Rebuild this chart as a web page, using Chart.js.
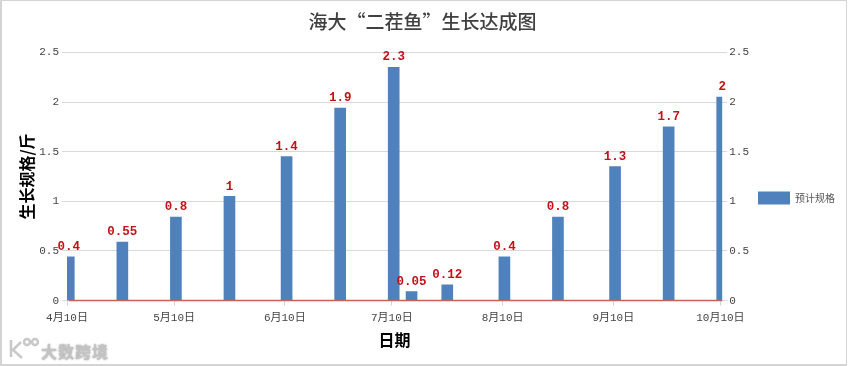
<!DOCTYPE html>
<html>
<head>
<meta charset="utf-8">
<title>海大“二茬鱼”生长达成图</title>
<script src="https://cdn.jsdelivr.net/npm/chart.js@4"></script>
<style>
body { margin: 0; background: #fff; }
#box { position: relative; width: 848px; height: 366px; overflow: hidden; }
#box canvas { position: absolute; left: 0; top: 0; }
#frame { position: absolute; left: 0; top: 0; width: 847px; height: 366px; box-sizing: border-box; border: 1px solid #d4d4d4; border-width: 1px 1px 2px 2px; }
#mark { position: absolute; left: 41px; top: 339px; font: bold 16px "Noto Sans CJK SC"; letter-spacing: 1px; color: #c4c4c4; text-shadow: 0 0 2px #999; }
#logo { position: absolute; left: 8px; top: 337px; }
</style>
</head>
<body>
<div id="box">
	<canvas id="chart" width="848" height="366"></canvas>
	<div id="frame"></div>
	<svg id="logo" width="32" height="24" fill="none" stroke="#c8c8c8" stroke-width="2.5">
		<path d="M3 3V20M13 5L5 13L14 21"/>
		<circle cx="19" cy="5" r="3"/>
		<circle cx="27" cy="5" r="3"/>
	</svg>
	<div id="mark">大数跨境</div>
</div>
<script>
// 날짜 (4월10일 = 0)
var days = [0, 15, 30, 45, 61, 76, 91, 96, 106, 122, 137, 153, 168, 183];
var sizes = [0.44, 0.59, 0.84, 1.05, 1.45, 1.94, 2.35, 0.09, 0.16, 0.44, 0.84, 1.35, 1.75, 2.05];
var sizeLabels = ['0.4', '0.55', '0.8', '1', '1.4', '1.9', '2.3', '0.05', '0.12', '0.4', '0.8', '1.3', '1.7', '2'];
var baseline = [0, 0, 0, 0, 0, 0, 0, 0, 0, 0, 0, 0, 0, 0];
var tickDays = [0, 30, 61, 91, 122, 153, 183];
var tickLabels = ['4月10日', '5月10日', '6月10日', '7月10日', '8月10日', '9月10日', '10月10日'];

var cjk = '"Liberation Mono", "Noto Sans CJK SC", monospace';

function toPoints(values) {
	return values.map(function(v, i) { return { x: days[i], y: v }; });
}

// 막대 위 빨간 숫자
var barLabels = {
	id: 'barLabels',
	afterDatasetsDraw: function(chart) {
		var ctx = chart.ctx;
		ctx.save();
		ctx.font = 'bold 12.5px "Liberation Mono"';
		ctx.fillStyle = '#c5101a';
		ctx.textAlign = 'center';
		ctx.textBaseline = 'middle';
		chart.getDatasetMeta(1).data.forEach(function(bar, i) {
			ctx.fillText(sizeLabels[i], bar.x, bar.y - 10);
		});
		ctx.restore();
	}
};

// 범례, 제목 위치 옮기기
var moveLegend = {
	id: 'moveLegend',
	afterLayout: function(chart) {
		var lg = chart.legend;
		lg.top += 23;
		lg.bottom += 23;
		lg.left += 7;
		lg.right += 7;
		chart.titleBlock.left -= 5;
		chart.titleBlock.right -= 5;
	}
};

new Chart(document.getElementById('chart').getContext('2d'), {
	data: {
		datasets: [{
			type: 'line',
			label: '基线',
			data: toPoints(baseline),
			borderColor: '#c9605c',
			borderWidth: 1.5,
			pointRadius: 0,
			clip: false,
			order: 0
		}, {
			type: 'bar',
			label: '预计规格',
			data: toPoints(sizes),
			backgroundColor: '#4f81bd',
			barThickness: 11,
			order: 1
		}]
	},
	options: {
		responsive: false,
		animation: false,
		layout: { padding: { left: 17, right: 10, top: 0, bottom: 16 } },
		plugins: {
			tooltip: { enabled: false },
			title: {
				display: true,
				text: '海大“二茬鱼”生长达成图',
				color: '#404040',
				font: { family: '"Noto Sans CJK SC"', size: 19, weight: '500' },
				padding: { top: 10, bottom: 19.6 }
			},
			legend: {
				position: 'right',
				labels: {
					boxWidth: 32,
					boxHeight: 13,
					padding: 0,
					color: '#555',
					font: { family: '"Noto Sans CJK SC"', size: 10 },
					filter: function(item) { return item.text == '预计规格'; }
				}
			}
		},
		scales: {
			x: {
				type: 'linear',
				offset: false,
				min: -0.5,
				max: 183,
				afterBuildTicks: function(axis) {
					axis.ticks = tickDays.map(function(d) { return { value: d - 0.5 }; });
				},
				grid: { offset: false, drawOnChartArea: false, tickLength: 5, color: '#d4d4d4' },
				border: { color: '#d4d4d4' },
				ticks: {
					autoSkip: false,
					maxRotation: 0,
					padding: 6,
					color: '#444',
					font: { family: cjk, size: 11 },
					callback: function(v, i) { return tickLabels[i]; }
				},
				title: {
					display: true,
					text: '日期',
					color: '#000',
					font: { family: '"Noto Sans CJK SC"', size: 16, weight: 'bold' },
					padding: { top: 0, bottom: 0 }
				}
			},
			y: {
				min: 0,
				max: 2.5,
				ticks: { stepSize: 0.5, color: '#444', padding: 3, font: { family: cjk, size: 11 }, callback: function(v) { return String(v); } },
				grid: { color: '#d9d9d9', tickLength: 5 },
				border: { display: false },
				title: {
					display: true,
					text: '生长规格/斤',
					color: '#000',
					font: { family: '"Noto Sans CJK SC"', size: 16, weight: 'bold' },
					padding: { top: 0, bottom: 0 }
				}
			},
			y1: {
				position: 'right',
				min: 0,
				max: 2.5,
				ticks: { stepSize: 0.5, color: '#444', padding: 2, font: { family: cjk, size: 11 }, callback: function(v) { return String(v); } },
				grid: { drawOnChartArea: false, color: '#d9d9d9', tickLength: 5 },
				border: { display: false }
			}
		}
	},
	plugins: [barLabels, moveLegend]
});
</script>
</body>
</html>
